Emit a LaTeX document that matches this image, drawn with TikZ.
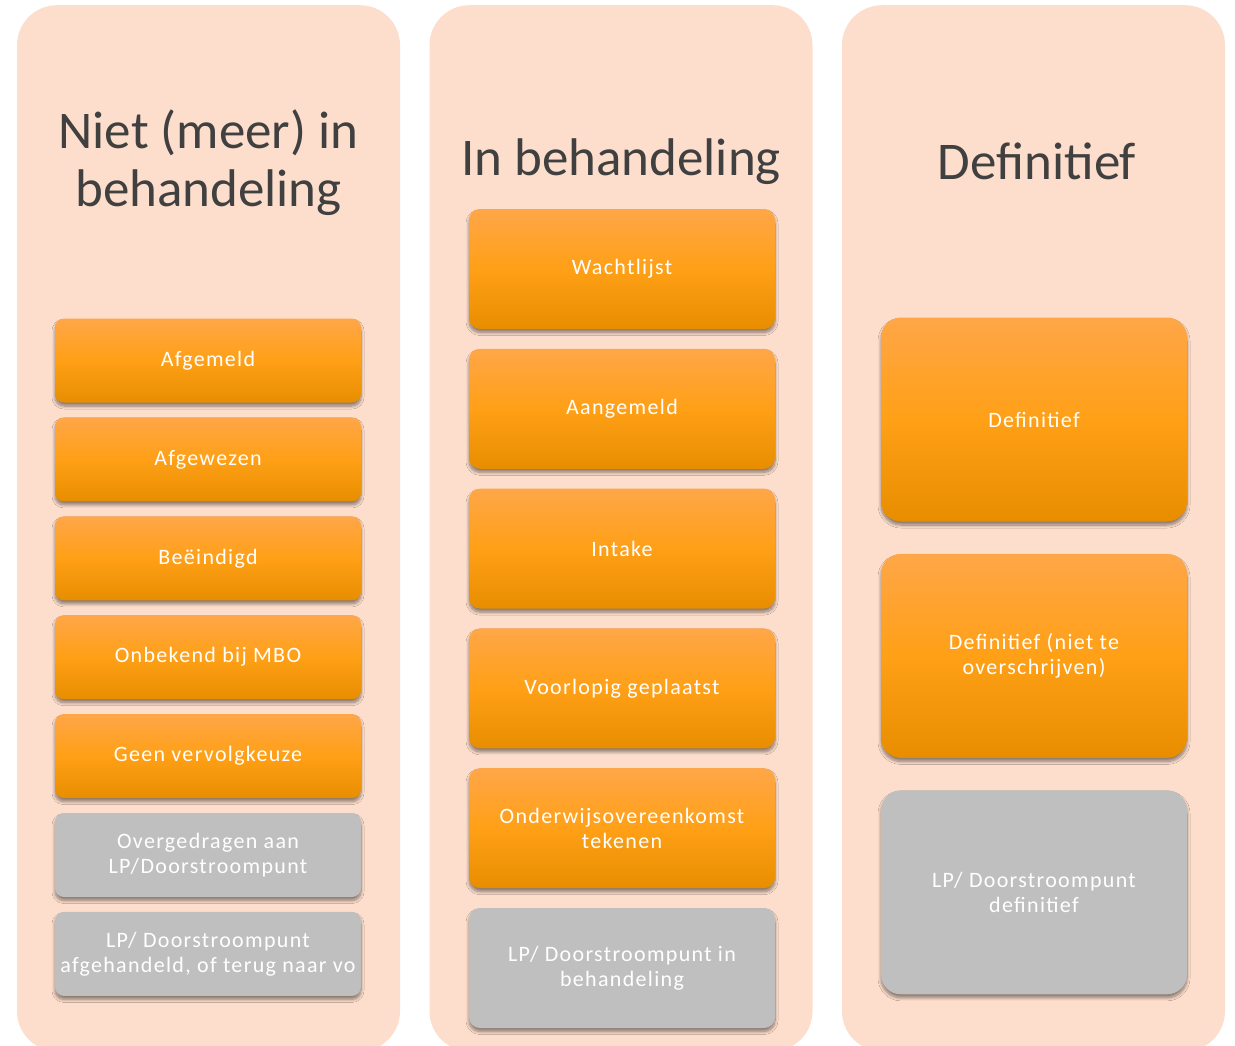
\documentclass[tikz,border=0pt]{standalone}
\usepackage{fontspec}
\setmainfont{Carlito}
\newfontfamily\statusfamily[LetterSpace=6]{Carlito}
\usepackage{tikz}
\usetikzlibrary{positioning, shadows, shadows.blur}
\definecolor{PanelPeach}{RGB}{253,222,204}
\definecolor{BoxTop}{RGB}{255,166,72}
\definecolor{BoxMid}{RGB}{255,160,22}
\definecolor{BoxBottom}{RGB}{232,141,0}
\definecolor{BoxGrey}{RGB}{191,191,191}
\definecolor{TitleGrey}{RGB}{64,64,64}
\tikzstyle{panel} = [rectangle, rounded corners=40pt, fill=PanelPeach, minimum width=383pt, minimum height=1046pt, anchor=north]
\tikzstyle{title} = [text=TitleGrey, align=center, font=\fontsize{53}{58}\selectfont]
\tikzstyle{status} = [rectangle, rounded corners=9pt, minimum width=306pt, text=white, align=center, font=\statusfont, blur shadow={shadow xshift=0pt, shadow yshift=-3.5pt, shadow blur radius=3pt, shadow opacity=45, shadow blur steps=8}]
\tikzstyle{orange} = [status, top color=BoxTop, bottom color=BoxBottom, middle color=BoxMid]
\tikzstyle{grey} = [status, fill=BoxGrey]
\newcommand{\statusfont}{\statusfamily\fontsize{22}{25}\selectfont}

\begin{document}
\begin{tikzpicture}[x=1pt, y=1pt]
  \useasboundingbox (0,0) rectangle (1235,-1045);
  \clip (0,0) rectangle (1235,-1045);
  \fill[white] (0,0) rectangle (1235,-1045);

  % columns
  \node (leftpanel) [panel] at (208.5,-5) {};
  \node (midpanel) [panel] at (621,-5) {};
  \node (rightpanel) [panel] at (1033.5,-5) {};

  \node (leftttitle) [title] at (208.5,-163) {Niet (meer) in\\behandeling};
  \node (midtitle) [title] at (621,-162) {In behandeling};
  \node (righttitle) [title] at (1037,-161) {Definitief};

  % niet (meer) in behandeling
  \node (afgemeld) [orange, minimum height=84pt] at (208,-360.5) {Afgemeld};
  \node (afgewezen) [orange, minimum height=84pt, below=14.5pt of afgemeld] {Afgewezen};
  \node (beeindigd) [orange, minimum height=84pt, below=14.5pt of afgewezen] {Beëindigd};
  \node (onbekend) [orange, minimum height=84pt, below=14.5pt of beeindigd] {Onbekend bij MBO};
  \node (geenkeuze) [orange, minimum height=84pt, below=14.5pt of onbekend] {Geen vervolgkeuze};
  \node (overgedragen) [grey, minimum height=84pt, below=14.5pt of geenkeuze] {Overgedragen aan\\LP/Doorstroompunt};
  \node (lpafgehandeld) [grey, minimum height=84pt, below=14.5pt of overgedragen] {LP/ Doorstroompunt\\afgehandeld, of terug naar vo};

  % in behandeling
  \node (wachtlijst) [orange, rounded corners=11pt, minimum height=120pt] at (622,-269) {Wachtlijst};
  \node (aangemeld) [orange, rounded corners=11pt, minimum height=120pt, below=19.4pt of wachtlijst] {Aangemeld};
  \node (intake) [orange, rounded corners=11pt, minimum height=120pt, below=19.4pt of aangemeld] {Intake};
  \node (voorlopig) [orange, rounded corners=11pt, minimum height=120pt, below=19.4pt of intake] {Voorlopig geplaatst};
  \node (overeenkomst) [orange, rounded corners=11pt, minimum height=120pt, below=19.4pt of voorlopig] {Onderwijsovereenkomst\\tekenen};
  \node (lpbehandeling) [grey, rounded corners=11pt, minimum height=120pt, below=19.4pt of overeenkomst] {LP/ Doorstroompunt in\\behandeling};

  % definitief
  \node (definitief) [orange, rounded corners=20pt, minimum height=204pt] at (1034,-419.5) {Definitief};
  \node (nietoverschrijven) [orange, rounded corners=20pt, minimum height=204pt, below=32pt of definitief] {Definitief (niet te\\overschrijven)};
  \node (lpdefinitief) [grey, rounded corners=20pt, minimum height=204pt, below=32pt of nietoverschrijven] {LP/ Doorstroompunt\\definitief};

\end{tikzpicture}
\end{document}
